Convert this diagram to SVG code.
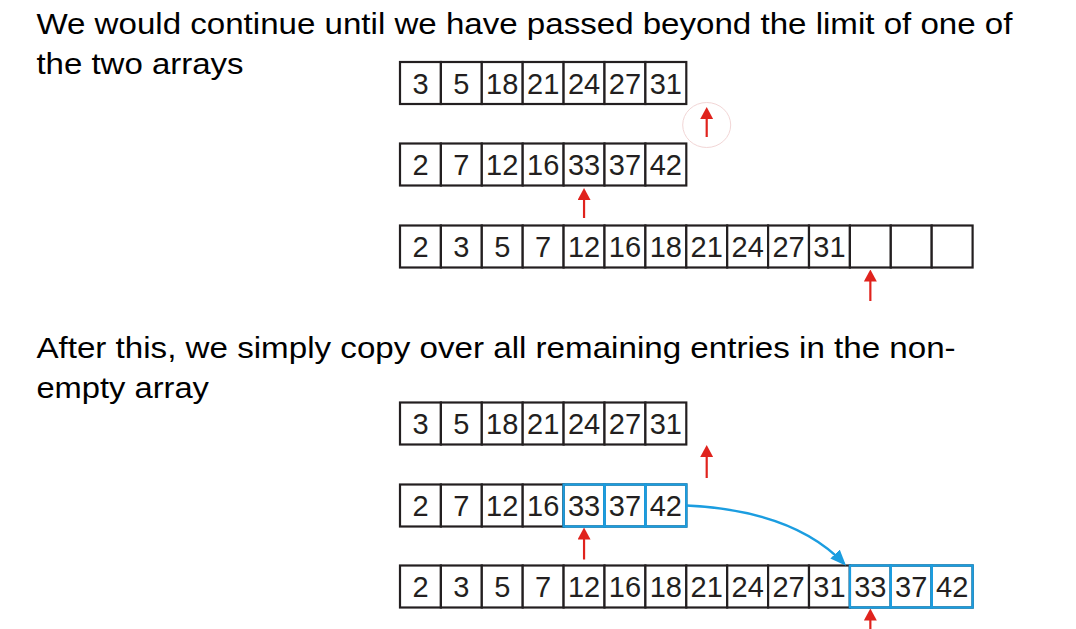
<svg xmlns="http://www.w3.org/2000/svg" width="1076" height="629" viewBox="0 0 1076 629">
<style>
.bg{fill:#fff}
.head{font-family:"Liberation Sans",Arial,sans-serif;font-size:30px;fill:#000}
.cell{fill:#fff;stroke:#231f20;stroke-width:2.2}
.hl{fill:none;stroke:#1b9de0;stroke-width:2.4}
.num{font-family:"Liberation Sans",Arial,sans-serif;font-size:29px;text-anchor:middle;fill:#231f20}
.ptr{stroke:#e0231d;stroke-width:2.2;fill:none}
.curve{stroke:#1b9de0;stroke-width:2.4;fill:none}
</style>
<defs>
<marker id="redHead" markerUnits="userSpaceOnUse" viewBox="0 0 12 13" markerWidth="12" markerHeight="13" refX="6" refY="6.5" orient="auto">
<path d="M0,0 L12,6.5 L0,13 z" fill="#e0231d"/>
</marker>
<marker id="blueHead" markerUnits="userSpaceOnUse" viewBox="0 0 16 13" markerWidth="16" markerHeight="13" refX="13" refY="6.5" orient="auto">
<path d="M0,0 L16,6.5 L0,13 z" fill="#1b9de0"/>
</marker>
</defs>
<rect class="bg" x="0" y="0" width="1076" height="629"/>

<g id="text-top">
<text class="head" transform="translate(36.4,33.5) scale(1.103,1)" x="0" y="0">We would continue until we have passed beyond the limit of one of</text>
<text class="head" transform="translate(36.4,73.5) scale(1.1,1)" x="0" y="0">the two arrays</text>
</g>
<g id="text-bottom">
<text class="head" transform="translate(36.4,358.3) scale(1.105,1)" x="0" y="0">After this, we simply copy over all remaining entries in the non-</text>
<text class="head" transform="translate(36.4,397.7) scale(1.09,1)" x="0" y="0">empty array</text>
</g>

<g id="array-a1">
<rect class="cell" x="400" y="62" width="40.9" height="42"/>
<rect class="cell" x="440.9" y="62" width="40.9" height="42"/>
<rect class="cell" x="481.8" y="62" width="40.9" height="42"/>
<rect class="cell" x="522.7" y="62" width="40.9" height="42"/>
<rect class="cell" x="563.6" y="62" width="40.9" height="42"/>
<rect class="cell" x="604.5" y="62" width="40.9" height="42"/>
<rect class="cell" x="645.4" y="62" width="40.9" height="42"/>
<text class="num" x="420.45" y="93.5">3</text>
<text class="num" x="461.35" y="93.5">5</text>
<text class="num" x="502.25" y="93.5">18</text>
<text class="num" x="543.15" y="93.5">21</text>
<text class="num" x="584.05" y="93.5">24</text>
<text class="num" x="624.95" y="93.5">27</text>
<text class="num" x="665.85" y="93.5">31</text>
</g>

<g id="array-a2">
<rect class="cell" x="400" y="143.5" width="40.9" height="42"/>
<rect class="cell" x="440.9" y="143.5" width="40.9" height="42"/>
<rect class="cell" x="481.8" y="143.5" width="40.9" height="42"/>
<rect class="cell" x="522.7" y="143.5" width="40.9" height="42"/>
<rect class="cell" x="563.6" y="143.5" width="40.9" height="42"/>
<rect class="cell" x="604.5" y="143.5" width="40.9" height="42"/>
<rect class="cell" x="645.4" y="143.5" width="40.9" height="42"/>
<text class="num" x="420.45" y="175">2</text>
<text class="num" x="461.35" y="175">7</text>
<text class="num" x="502.25" y="175">12</text>
<text class="num" x="543.15" y="175">16</text>
<text class="num" x="584.05" y="175">33</text>
<text class="num" x="624.95" y="175">37</text>
<text class="num" x="665.85" y="175">42</text>
</g>

<g id="array-a3">
<rect class="cell" x="400" y="225.5" width="40.9" height="42"/>
<rect class="cell" x="440.9" y="225.5" width="40.9" height="42"/>
<rect class="cell" x="481.8" y="225.5" width="40.9" height="42"/>
<rect class="cell" x="522.7" y="225.5" width="40.9" height="42"/>
<rect class="cell" x="563.6" y="225.5" width="40.9" height="42"/>
<rect class="cell" x="604.5" y="225.5" width="40.9" height="42"/>
<rect class="cell" x="645.4" y="225.5" width="40.9" height="42"/>
<rect class="cell" x="686.3" y="225.5" width="40.9" height="42"/>
<rect class="cell" x="727.2" y="225.5" width="40.9" height="42"/>
<rect class="cell" x="768.1" y="225.5" width="40.9" height="42"/>
<rect class="cell" x="809" y="225.5" width="40.9" height="42"/>
<rect class="cell" x="849.9" y="225.5" width="40.9" height="42"/>
<rect class="cell" x="890.8" y="225.5" width="40.9" height="42"/>
<rect class="cell" x="931.7" y="225.5" width="40.9" height="42"/>
<text class="num" x="420.45" y="257">2</text>
<text class="num" x="461.35" y="257">3</text>
<text class="num" x="502.25" y="257">5</text>
<text class="num" x="543.15" y="257">7</text>
<text class="num" x="584.05" y="257">12</text>
<text class="num" x="624.95" y="257">16</text>
<text class="num" x="665.85" y="257">18</text>
<text class="num" x="706.75" y="257">21</text>
<text class="num" x="747.65" y="257">24</text>
<text class="num" x="788.55" y="257">27</text>
<text class="num" x="829.45" y="257">31</text>
</g>

<g id="array-b1">
<rect class="cell" x="400" y="402.5" width="40.9" height="42"/>
<rect class="cell" x="440.9" y="402.5" width="40.9" height="42"/>
<rect class="cell" x="481.8" y="402.5" width="40.9" height="42"/>
<rect class="cell" x="522.7" y="402.5" width="40.9" height="42"/>
<rect class="cell" x="563.6" y="402.5" width="40.9" height="42"/>
<rect class="cell" x="604.5" y="402.5" width="40.9" height="42"/>
<rect class="cell" x="645.4" y="402.5" width="40.9" height="42"/>
<text class="num" x="420.45" y="434">3</text>
<text class="num" x="461.35" y="434">5</text>
<text class="num" x="502.25" y="434">18</text>
<text class="num" x="543.15" y="434">21</text>
<text class="num" x="584.05" y="434">24</text>
<text class="num" x="624.95" y="434">27</text>
<text class="num" x="665.85" y="434">31</text>
</g>

<g id="array-b2">
<rect class="cell" x="400" y="484.5" width="40.9" height="42"/>
<rect class="cell" x="440.9" y="484.5" width="40.9" height="42"/>
<rect class="cell" x="481.8" y="484.5" width="40.9" height="42"/>
<rect class="cell" x="522.7" y="484.5" width="40.9" height="42"/>
<rect class="cell" x="563.6" y="484.5" width="40.9" height="42"/>
<rect class="cell" x="604.5" y="484.5" width="40.9" height="42"/>
<rect class="cell" x="645.4" y="484.5" width="40.9" height="42"/>
<rect class="hl" x="563.6" y="484.5" width="40.9" height="42"/>
<rect class="hl" x="604.5" y="484.5" width="40.9" height="42"/>
<rect class="hl" x="645.4" y="484.5" width="40.9" height="42"/>
<text class="num" x="420.45" y="516">2</text>
<text class="num" x="461.35" y="516">7</text>
<text class="num" x="502.25" y="516">12</text>
<text class="num" x="543.15" y="516">16</text>
<text class="num" x="584.05" y="516">33</text>
<text class="num" x="624.95" y="516">37</text>
<text class="num" x="665.85" y="516">42</text>
</g>

<g id="array-b3">
<rect class="cell" x="400" y="565.5" width="40.9" height="42"/>
<rect class="cell" x="440.9" y="565.5" width="40.9" height="42"/>
<rect class="cell" x="481.8" y="565.5" width="40.9" height="42"/>
<rect class="cell" x="522.7" y="565.5" width="40.9" height="42"/>
<rect class="cell" x="563.6" y="565.5" width="40.9" height="42"/>
<rect class="cell" x="604.5" y="565.5" width="40.9" height="42"/>
<rect class="cell" x="645.4" y="565.5" width="40.9" height="42"/>
<rect class="cell" x="686.3" y="565.5" width="40.9" height="42"/>
<rect class="cell" x="727.2" y="565.5" width="40.9" height="42"/>
<rect class="cell" x="768.1" y="565.5" width="40.9" height="42"/>
<rect class="cell" x="809" y="565.5" width="40.9" height="42"/>
<rect class="cell" x="849.9" y="565.5" width="40.9" height="42"/>
<rect class="cell" x="890.8" y="565.5" width="40.9" height="42"/>
<rect class="cell" x="931.7" y="565.5" width="40.9" height="42"/>
<rect class="hl" x="849.9" y="565.5" width="40.9" height="42"/>
<rect class="hl" x="890.8" y="565.5" width="40.9" height="42"/>
<rect class="hl" x="931.7" y="565.5" width="40.9" height="42"/>
<text class="num" x="420.45" y="597">2</text>
<text class="num" x="461.35" y="597">3</text>
<text class="num" x="502.25" y="597">5</text>
<text class="num" x="543.15" y="597">7</text>
<text class="num" x="584.05" y="597">12</text>
<text class="num" x="624.95" y="597">16</text>
<text class="num" x="665.85" y="597">18</text>
<text class="num" x="706.75" y="597">21</text>
<text class="num" x="747.65" y="597">24</text>
<text class="num" x="788.55" y="597">27</text>
<text class="num" x="829.45" y="597">31</text>
<text class="num" x="870.35" y="597">33</text>
<text class="num" x="911.25" y="597">37</text>
<text class="num" x="952.15" y="597">42</text>
</g>

<g id="highlight-circle">
<ellipse cx="706.7" cy="125" rx="24" ry="22.5" fill="none" stroke="#f2d6d6" stroke-width="1"/>
</g>

<g id="connectors">
<line class="ptr" x1="706.7" y1="137" x2="706.7" y2="113" marker-end="url(#redHead)"/>
<line class="ptr" x1="584.05" y1="218" x2="584.05" y2="194" marker-end="url(#redHead)"/>
<line class="ptr" x1="870.35" y1="301" x2="870.35" y2="275.5" marker-end="url(#redHead)"/>
<line class="ptr" x1="706.7" y1="478" x2="706.7" y2="451" marker-end="url(#redHead)"/>
<line class="ptr" x1="584.05" y1="559.5" x2="584.05" y2="533.5" marker-end="url(#redHead)"/>
<line class="ptr" x1="870.35" y1="640" x2="870.35" y2="614.5" marker-end="url(#redHead)"/>
<path class="curve" d="M686.3,505.5 Q793.5,510.5 844,563.5" marker-end="url(#blueHead)"/>
</g>
</svg>
